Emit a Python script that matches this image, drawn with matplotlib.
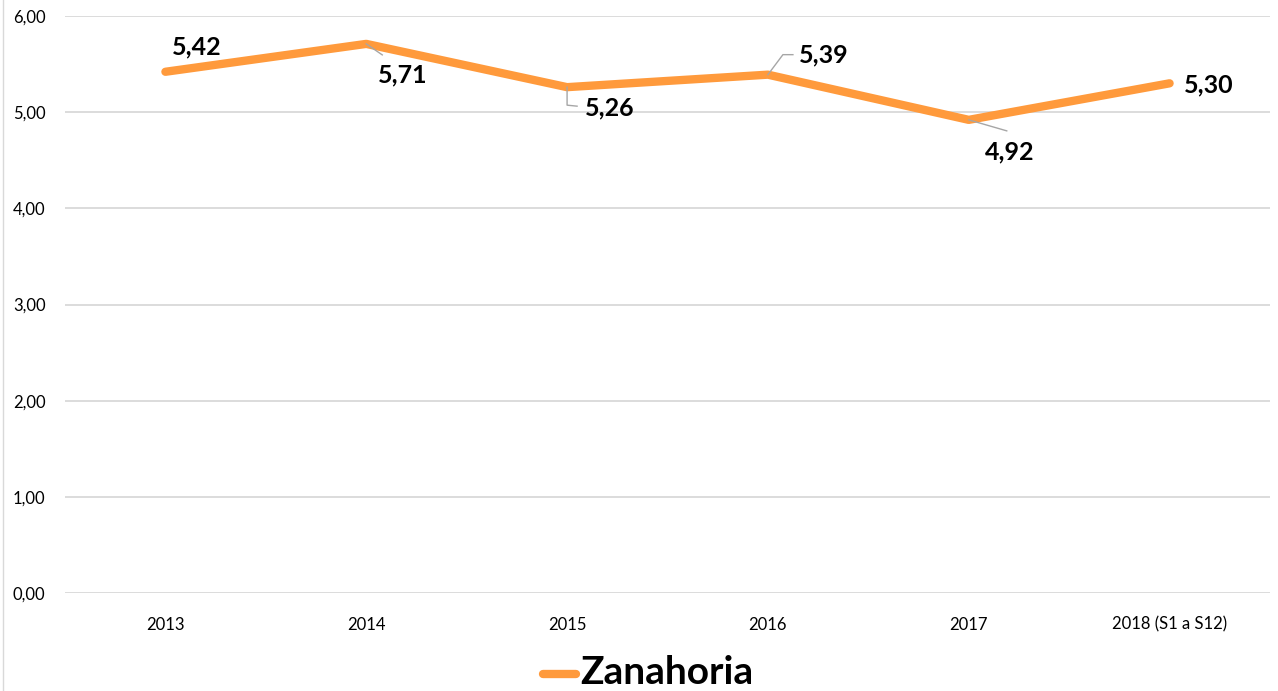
import matplotlib
matplotlib.use("Agg")
import matplotlib.pyplot as plt
from matplotlib.lines import Line2D
from matplotlib.transforms import IdentityTransform
from matplotlib.ticker import FuncFormatter

plt.rcParams['font.family'] = ['Lato', 'DejaVu Sans']

years = ['2013', '2014', '2015', '2016', '2017', '2018 (S1 a S12)']
zanahoria = [5.42, 5.71, 5.26, 5.39, 4.92, 5.30]
serie = 'Zanahoria'

# desplazamiento de cada etiqueta (pixeles) y su linea guia
label_offsets = [(31, 25), (36, -31), (43, -21), (56, 20), (41, -32), (39, -2)]
leaders = [None,
           [(0, 0), (16, -11)],
           [(0, 0), (0, -18), (10, -19)],
           [(0, 0), (15, 20), (25, 20)],
           [(0, 0), (38, -11)],
           None]

orange = '#FF9A3C'
grid_c = '#D9D9D9'

fig = plt.figure(figsize=(12.78, 6.91), dpi=100)
ax = fig.add_axes([65 / 1278, 98 / 691, 1205 / 1278, 577 / 691])

x = range(len(years))
ax.plot(x, zanahoria, color=orange, lw=6, solid_capstyle='round', solid_joinstyle='round', zorder=3)

ax.set_xlim(-0.5, len(years) - 0.5)
ax.set_ylim(0, 6)
ax.set_yticks([0, 1, 2, 3, 4, 5, 6])
ax.yaxis.set_major_formatter(FuncFormatter(lambda v, p: f'{v:.2f}'.replace('.', ',')))
ax.set_xticks(list(x))
ax.set_xticklabels(years)
ax.grid(axis='y', color=grid_c, lw=1.3)
ax.set_axisbelow(True)
for s in ax.spines.values():
    s.set_visible(False)
ax.tick_params(axis='both', length=0, labelsize=12, colors='#000000')
ax.tick_params(axis='y', pad=14)
ax.tick_params(axis='x', pad=17)

fig.canvas.draw()
for i, v in enumerate(zanahoria):
    dx, dy = label_offsets[i]
    ax.annotate(f'{v:.2f}'.replace('.', ','), (i, v), xytext=(dx, dy),
                textcoords='offset pixels', ha='center', va='center',
                fontsize=18, fontweight='bold', color='#000000', zorder=5)
    if leaders[i]:
        px, py = ax.transData.transform((i, v))
        xs = [px + a for a, b in leaders[i]]
        ys = [py + b for a, b in leaders[i]]
        fig.add_artist(Line2D(xs, ys, transform=IdentityTransform(), color='#A6A6A6', lw=1, zorder=4))

# borde izquierdo del area del grafico
fig.add_artist(Line2D([3 / 1278, 3 / 1278], [0, 1], color=grid_c, lw=1))

# leyenda
fig.add_artist(Line2D([543 / 1278, 576 / 1278], [17 / 691, 17 / 691], color=orange, lw=6,
                      solid_capstyle='round'))
fig.text(580 / 1278, 1 / 691, serie, fontsize=28, fontweight='bold', ha='left', va='bottom')

fig.savefig('out.png', dpi=100)
